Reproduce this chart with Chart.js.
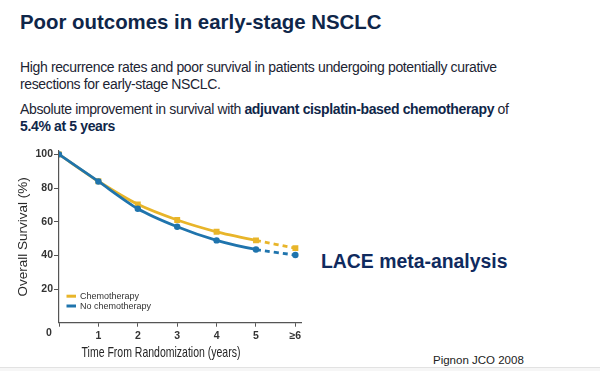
<!DOCTYPE html>
<html>
<head>
<meta charset="utf-8">
<script src="https://cdn.jsdelivr.net/npm/chart.js@4.4.1/dist/chart.umd.min.js"></script>
<style>
  html, body { margin:0; padding:0; background:#fff; }
  body { width:600px; height:371px; position:relative; overflow:hidden; font-family:"Liberation Sans", Arial, sans-serif; }
  .t { position:absolute; white-space:nowrap; }
  #title { left:20px; top:10px; font-size:20.4px; line-height:24px; font-weight:bold; color:#0f2649; }
  #p1 { left:20px; top:59px; font-size:14px; line-height:17px; letter-spacing:-0.36px; color:#1c2433; }
  #p2 { left:20px; top:101px; font-size:14px; line-height:17px; letter-spacing:-0.36px; color:#1c2433; }
  #p2 b { color:#0f2649; }
  #lace { left:321px; top:250px; font-size:19.4px; line-height:22px; font-weight:bold; color:#0f2a5e; }
  #src { left:433px; top:353px; font-size:11.5px; line-height:14px; color:#222; }
  #rule { position:absolute; left:0; top:367px; width:600px; height:1px; background:#e2e2e2; }
  #foot { position:absolute; left:0; top:368px; width:600px; height:3px; background:#f6f6f6; }
  #wrap { position:absolute; left:0; top:140px; width:320px; height:231px; }
</style>
</head>
<body>
<div class="t" id="title">Poor outcomes in early-stage NSCLC</div>
<div class="t" id="p1">High recurrence rates and poor survival in patients undergoing potentially curative<br>resections for early-stage NSCLC.</div>
<div class="t" id="p2">Absolute improvement in survival with <b>adjuvant cisplatin-based chemotherapy</b> of<br><b>5.4% at 5 years</b></div>
<div class="t" id="lace">LACE meta-analysis</div>
<div class="t" id="src">Pignon JCO 2008</div>
<div id="rule"></div><div id="foot"></div>
<div id="wrap"><canvas id="c" width="320" height="231"></canvas></div>
<script>
const years = [0, 1, 2, 3, 4, 5, 6];
const xTickLabels = ['0', '1', '2', '3', '4', '5', '\u22656'];
const chemo = [100, 84, 70.3, 61, 54, 48.9, 44.3];
const noChemo = [100, 83.9, 67.7, 57, 48.9, 43.5, 40.2];
const seriesNames = ['Chemotherapy', 'No chemotherapy'];
const yTicks = [20, 40, 60, 80, 100];
const xTitle = 'Time From Randomization (years)';
const yTitle = 'Overall Survival (%)';

const GOLD = '#e8b52a';
const BLUE = '#1f74ad';
const SANS = '"Liberation Sans", Arial, sans-serif';

function pts(vals) { return years.map((x, i) => ({ x: x, y: vals[i] })); }
const dashSeg = { borderDash: ctx => ctx.p0DataIndex >= 5 ? [5, 4] : undefined };

const extrasPlugin = {
  id: 'extras',
  afterDraw(chart) {
    const { ctx, chartArea } = chart;
    ctx.save();
    // legend inside the plot area
    chart.data.datasets.forEach((ds, i) => {
      const y = chartArea.bottom - 26.5 + i * 9.8;
      const x = chartArea.left + 7.5;
      ctx.strokeStyle = ds.borderColor;
      ctx.lineWidth = 3;
      ctx.beginPath(); ctx.moveTo(x, y); ctx.lineTo(x + 9.5, y); ctx.stroke();
      ctx.fillStyle = '#333';
      ctx.font = '9px ' + SANS;
      ctx.textBaseline = 'middle';
      ctx.textAlign = 'left';
      ctx.fillText(ds.label, x + 13.5, y + 0.5);
    });
    // origin label "0" sits left of the corner
    const xs = chart.scales.x;
    ctx.fillStyle = '#333';
    ctx.font = 'bold 10.5px ' + SANS;
    ctx.textAlign = 'center';
    ctx.textBaseline = 'middle';
    ctx.fillText(xTickLabels[0], xs.getPixelForValue(years[0]) - 10, chartArea.bottom + 10);
    // condensed x-axis title
    ctx.save();
    ctx.translate(chartArea.left + 102, chartArea.bottom + 30);
    ctx.scale(0.7, 1);
    ctx.font = '15px ' + SANS;
    ctx.fillStyle = '#262626';
    ctx.fillText(xTitle, 0, 0);
    ctx.restore();
    ctx.restore();
  }
};

new Chart(document.getElementById('c'), {
  type: 'line',
  data: {
    datasets: [
      { label: seriesNames[0], data: pts(chemo), borderColor: GOLD, backgroundColor: GOLD,
        borderWidth: 2.8, pointStyle: 'rect', pointRadius: 2.2, tension: 0.25, segment: dashSeg, order: 1 },
      { label: seriesNames[1], data: pts(noChemo), borderColor: BLUE, backgroundColor: BLUE,
        borderWidth: 2.8, pointStyle: 'circle', pointRadius: 1.8, tension: 0.25, segment: dashSeg, order: 0 }
    ]
  },
  options: {
    responsive: false,
    animation: false,
    layout: { padding: { left: 0, top: 11, right: 18.7, bottom: 0 } },
    plugins: { legend: { display: false }, tooltip: { enabled: false } },
    scales: {
      x: {
        type: 'linear', min: 0, max: 6.15,
        afterBuildTicks: s => { s.ticks = years.map(v => ({ value: v })); },
        afterFit: s => { s.height = 48.3; },
        ticks: {
          autoSkip: false, maxRotation: 0, padding: 3,
          callback: (v) => { const i = years.indexOf(v); return i > 0 ? xTickLabels[i] : ''; },
          color: '#333', font: { family: SANS, size: 10.5, weight: 'bold' }
        },
        grid: { drawOnChartArea: false, drawTicks: true, tickLength: 4, color: '#555', lineWidth: 1 },
        border: { display: true, color: '#555', width: 1.2 },
        title: { display: false, text: xTitle }
      },
      y: {
        min: 0, max: 102,
        afterBuildTicks: s => { s.ticks = yTicks.map(v => ({ value: v })); },
        afterFit: s => { s.width = 59; },
        ticks: { padding: 1, color: '#333', font: { family: SANS, size: 10.5, weight: 'bold' } },
        grid: { drawOnChartArea: false, drawTicks: true, tickLength: 5, color: '#555', lineWidth: 1 },
        border: { display: true, color: '#555', width: 1.2 },
        title: { display: true, text: yTitle, color: '#2a2a2a',
                 font: { family: SANS, size: 13.5 }, padding: { top: 15, bottom: 0 } }
      }
    }
  },
  plugins: [extrasPlugin]
});
</script>
</body>
</html>
